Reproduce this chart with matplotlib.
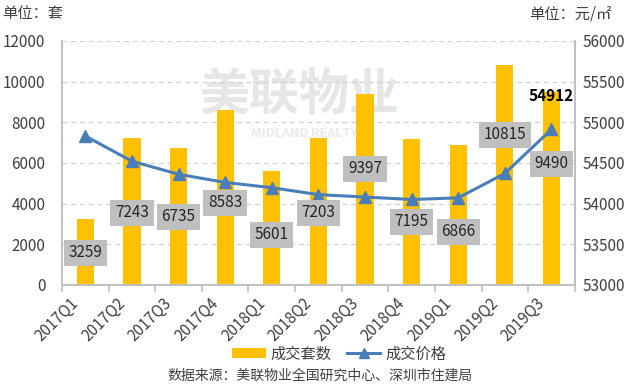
"""Shenzhen quarterly transactions: units sold (bars) and average price (line)."""
import matplotlib

matplotlib.use("Agg")
import matplotlib.pyplot as plt
import numpy as np
from matplotlib.lines import Line2D
from matplotlib.patches import Patch
from matplotlib.transforms import ScaledTranslation

plt.rcParams["font.family"] = ["Noto Sans CJK SC", "DejaVu Sans"]

quarters = ["2017Q1", "2017Q2", "2017Q3", "2017Q4", "2018Q1", "2018Q2",
            "2018Q3", "2018Q4", "2019Q1", "2019Q2", "2019Q3"]
units = [3259, 7243, 6735, 8583, 5601, 7203, 9397, 7195, 6866, 10815, 9490]
price = [54830, 54520, 54360, 54260, 54195, 54110, 54080, 54050, 54070, 54370, 54912]
# where each grey value box sits, in left-axis units (hand placed in the original)
label_pos = [1570, 3540, 3340, 4030, 2460, 3540, 5700, 3100, 2610, 7380, 5950]

BAR = "#ffc000"
LINE = "#4a7ebb"
AXIS = "#bfbfbf"
TXT = "#404040"

fig = plt.figure(figsize=(6.4, 3.86), dpi=100)
ax = fig.add_axes([0.097, 0.262, 0.801, 0.632])
ax2 = ax.twinx()

x = np.arange(len(quarters))

# faint watermark behind the bars
ax.text(4.6, 9300, "美联物业", fontsize=36, color="#e6e6e6", ha="center", va="center",
        fontweight="bold", zorder=0)
ax.text(4.7, 7450, "MIDLAND REALTY", fontsize=9, color="#eaeaea", ha="center", va="center",
        fontweight="bold", zorder=0)

ax.bar(x, units, width=0.37, color=BAR, zorder=2)
ax.set_xlim(-0.5, len(quarters) - 0.5)
ax.set_ylim(0, 12000)
ax.set_yticks(np.arange(0, 12001, 2000))
ax.yaxis.grid(True, linestyle=(0, (4, 3)), color="#d0d0d0", linewidth=0.9)
ax.set_axisbelow(True)

ax2.plot(x, price, color=LINE, linewidth=2.2, marker="^", markersize=8, zorder=3)
ax2.set_ylim(53000, 56000)
ax2.set_yticks(np.arange(53000, 56001, 500))

for a in (ax, ax2):
    for side in ("left", "right", "bottom"):
        a.spines[side].set_color(AXIS)
        a.spines[side].set_linewidth(1.2)
    a.spines["top"].set_visible(False)

ax.tick_params(axis="y", length=0, pad=12, labelsize=11, labelcolor=TXT)
ax2.tick_params(axis="y", length=0, pad=6, labelsize=11, labelcolor=TXT)

ax.set_xticks(x)
ax.set_xticklabels(quarters, rotation=45, ha="right", rotation_mode="anchor",
                   fontsize=11, color=TXT)
ax.set_xticks(np.arange(-0.5, len(quarters), 1), minor=True)
ax.tick_params(axis="x", which="major", length=0, pad=7)
ax.tick_params(axis="x", which="minor", length=5, color=AXIS, width=1.2)
for lbl in ax.get_xticklabels():
    lbl.set_transform(lbl.get_transform() + ScaledTranslation(-11 / 72, 0, fig.dpi_scale_trans))

# grey value boxes for the unit counts, drawn above the line
for xi, v, ly in zip(x, units, label_pos):
    ax2.text(xi, ly, f"{v}", transform=ax.transData, ha="center", va="center",
             fontsize=11, color="#262626", zorder=5,
             bbox=dict(boxstyle="square,pad=0.3", facecolor="#bfbfbf", edgecolor="none"))

ax2.annotate(f"{price[-1]}", (x[-1], price[-1]), xytext=(0, 24), textcoords="offset points",
             ha="center", va="center", fontsize=11, fontweight="bold", color="black", zorder=5)

fig.text(0.003, 0.965, "单位：套", fontsize=11, color=TXT, ha="left", va="center")
fig.text(0.955, 0.965, "单位：元/㎡", fontsize=11, color=TXT, ha="right", va="center")

handles = [Patch(facecolor=BAR, edgecolor="none"),
           Line2D([], [], color=LINE, linewidth=2.2, marker="^", markersize=7)]
fig.legend(handles, ["成交套数", "成交价格"], loc="center", bbox_to_anchor=(0.53, 0.083),
           ncol=2, frameon=False, fontsize=11, handlelength=2.2, handletextpad=0.3,
           columnspacing=1.0, labelcolor=TXT)

fig.text(0.5, 0.026, "数据来源：美联物业全国研究中心、深圳市住建局", fontsize=10,
         color=TXT, ha="center", va="center")

fig.savefig("out.png", dpi=100)
